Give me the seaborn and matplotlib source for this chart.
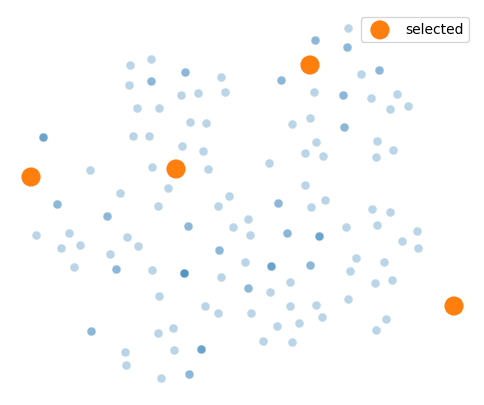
import seaborn as sns
import matplotlib.pyplot as plt

# 2-D embedding of all items (repeated rows are identical items, they stack darker)
emb_x = [-11.2, -9.1, -5.7, -5.7, -2.1, -11.3, -9.1, -9.1, -6.1, -4.4, -1.7, -10.5, -8.3,
         -5.2, -3.6, -19.9, -19.9, -19.9, -10.9, -9.3, -6.0, -3.9, -15.2, -9.0, -3.4, -7.4,
         -12.2, -1.3, 10.6, 7.3, 7.3, 10.5, 10.5, 3.9, 3.9, 11.9, 13.7, 13.7, 7.2, 10.1, 10.1,
         12.9, 15.5, 14.8, 16.6, 6.8, 5.0, 10.2, 10.2, 7.4, 13.5, 15.1, 6.3, 8.1, 13.4, 2.7,
         6.3, 8.3, 3.6, 3.6, -18.5, -18.5, -8.4, -2.4, -13.5, -13.5, -5.4, -5.4, -0.9, -20.6,
         -17.3, -11.5, -18.1, -16.2, -10.4, -13.2, -2.3, -2.3, -16.8, -12.6, -12.6, -9.0,
         -5.8, -5.8, -5.8, -5.8, -2.1, -8.3, -3.7, -2.4, -15.1, -15.1, -8.4, -6.9, -11.7, -6.8,
         -4.1, -4.1, -4.1, -11.6, -8.1, -5.3, -5.3, 6.9, 13.0, 14.8, 0.6, 0.8, 4.5, 4.5,
         7.7, 7.7, 7.7, 10.4, 13.5, 17.5, 16.0, 17.6, 0.3, 2.9, 2.9, 2.9, 6.8, 6.8, 11.4,
         14.2, 10.8, 13.3, 15.0, 0.6, 0.6, 2.8, 4.8, 0.9, 4.8, 7.4, 10.6, 8.0, 3.5, 5.7,
         14.4, 13.4, 2.1, 5.0]
emb_y = [13.5, 14.1, 12.8, 12.8, 12.3, 11.5, 11.9, 11.9, 10.5, 10.7, 10.8, 9.2, 9.2,
         7.8, 7.7, 6.3, 6.3, 6.3, 6.4, 6.4, 5.4, 4.9, 3.0, 3.3, 3.1, 1.2,
         0.7, 0.4, 17.2, 16.0, 16.0, 15.3, 15.3, 12.0, 12.0, 12.6, 13.0, 13.0, 10.8, 10.5, 10.5,
         10.2, 10.6, 9.1, 9.4, 8.2, 7.6, 7.3, 7.3, 5.8, 5.9, 5.0, 4.7, 4.4, 4.3, 3.7,
         1.5, 0.0, -0.3, -0.3, -0.4, -0.4, -0.6, -0.6, -1.6, -1.6, -2.6, -2.6, -2.7, -3.5,
         -3.3, -3.7, -4.8, -4.5, -4.6, -5.4, -5.0, -5.0, -6.7, -6.9, -6.9, -7.0,
         -7.3, -7.3, -7.3, -7.3, -7.7, -9.6, -10.6, -11.3, -13.1, -13.1, -13.3, -12.8, -15.2, -15.0,
         -14.9, -14.9, -14.9, -16.5, -17.8, -17.4, -17.4, -0.7, -0.9, -1.2, -1.9, -3.5, -3.3, -3.3,
         -3.6, -3.6, -3.6, -2.7, -2.5, -3.1, -4.1, -4.8, -6.2, -6.6, -6.6, -6.6, -6.5, -6.5, -5.8,
         -6.2, -7.1, -8.3, -8.0, -8.8, -8.8, -9.2, -8.2, -11.3, -10.6, -10.5, -9.9, -11.7, -12.6, -12.3,
         -11.9, -13.0, -14.1, -14.2]

# the selected items
sel_x = [-21.1, -6.6, 6.8, 21.2]
sel_y = [2.3, 3.1, 13.5, -10.6]

fig = plt.figure(figsize=(4.84, 4.05), dpi=100)
ax = fig.add_axes([0, 0, 1, 1])

sns.scatterplot(x=emb_x, y=emb_y, color='tab:blue', alpha=0.3, s=40, ax=ax)
sns.scatterplot(x=sel_x, y=sel_y, color='tab:orange', s=190, edgecolor='none',
                label='selected', ax=ax)

ax.set_xlim(-24.2, 24.2)
ax.set_ylim(-20.5, 20.0)
ax.axis('off')

ax.legend(loc='upper right', bbox_to_anchor=(469 / 484, 1 - 17 / 405),
          bbox_transform=fig.transFigure, borderaxespad=0)

fig.savefig('out.png', dpi=100)
